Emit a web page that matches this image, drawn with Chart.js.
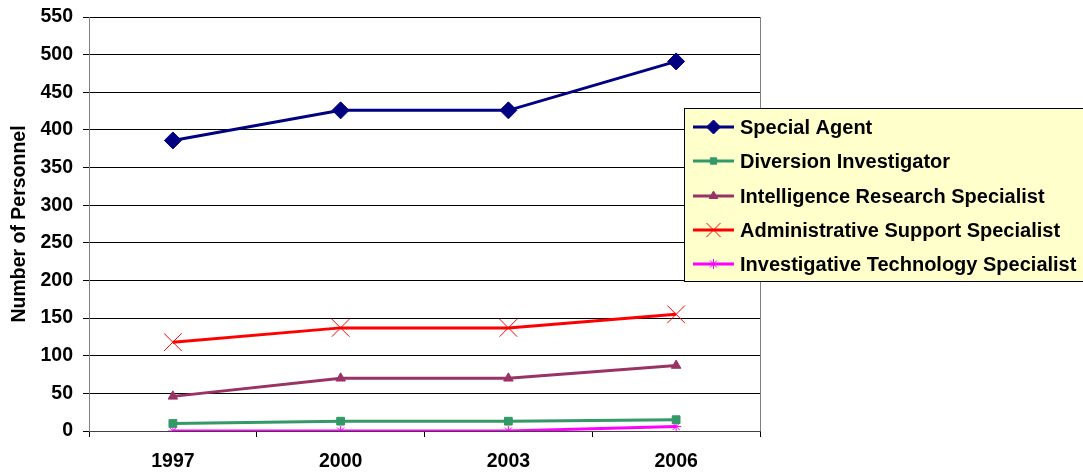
<!DOCTYPE html>
<html>
<head>
<meta charset="utf-8">
<script src="https://cdn.jsdelivr.net/npm/chart.js@4/dist/chart.umd.min.js"></script>
<style>
  html, body { margin: 0; padding: 0; background: #fff; }
  #wrap { position: relative; width: 1083px; height: 473px; }
</style>
</head>
<body>
<div id="wrap"><canvas id="c" width="1083" height="473"></canvas></div>
<script>
// Staffing by occupation, fiscal years 1997-2006
const years = ['1997', '2000', '2003', '2006'];
const specialAgent = [386, 426, 426, 491];
const diversionInvestigator = [10, 13, 13, 15];
const intelligenceResearch = [46, 70, 70, 87];
const adminSupport = [118, 137, 137, 155];
const investigativeTech = [0, 0, 0, 6];
const yTicks = [0, 50, 100, 150, 200, 250, 300, 350, 400, 450, 500, 550];

const FONT = '"Liberation Sans", Arial, sans-serif';

const series = [
  { label: 'Special Agent', data: specialAgent, color: '#000080', style: 'rectRot', r: 8.5, lr: 7 },
  { label: 'Diversion Investigator', data: diversionInvestigator, color: '#339966', style: 'rect', r: 5.5, lr: 4.5 },
  { label: 'Intelligence Research Specialist', data: intelligenceResearch, color: '#993366', style: 'triangle', r: 5.5, lr: 5 },
  { label: 'Administrative Support Specialist', data: adminSupport, color: '#FF0000', style: 'crossRot', r: 12.5, lr: 10 },
  { label: 'Investigative Technology Specialist', data: investigativeTech, color: '#FF00FF', style: 'star', r: 5, lr: 5 }
];

const datasets = series.map(s => ({
  label: s.label,
  data: s.data,
  borderColor: s.color,
  backgroundColor: s.color,
  borderWidth: 3,
  pointStyle: s.style,
  pointRadius: s.r,
  pointBorderWidth: 1,
  pointBackgroundColor: s.color,
  pointBorderColor: s.color,
  tension: 0
}));

// Boxed legend on a pale yellow panel, overlapping the right of the plot
const boxLegend = {
  id: 'boxLegend',
  afterDraw(chart) {
    const ctx = chart.ctx;
    const x0 = 684, y0 = 108, w = 410, h = 173;
    ctx.save();
    ctx.fillStyle = '#FFFFCC';
    ctx.fillRect(x0, y0, w, h);
    ctx.strokeStyle = '#000';
    ctx.lineWidth = 1;
    ctx.strokeRect(x0 + 0.5, y0 + 0.5, w, h);
    const rows = [127, 161, 196, 230, 264];
    series.forEach((s, i) => {
      const y = rows[i];
      ctx.strokeStyle = s.color;
      ctx.fillStyle = s.color;
      ctx.lineWidth = 3;
      ctx.beginPath();
      ctx.moveTo(693, y);
      ctx.lineTo(734, y);
      ctx.stroke();
      ctx.lineWidth = 1;
      Chart.helpers.drawPoint(ctx, { pointStyle: s.style, radius: s.lr, borderWidth: 1 }, 713.5, y);
      ctx.fillStyle = '#000';
      ctx.font = 'bold 20px ' + FONT;
      ctx.textBaseline = 'middle';
      ctx.textAlign = 'left';
      ctx.fillText(s.label, 740, y + 1);
    });
    ctx.restore();
  }
};

// Grey right-hand edge of the plot area
const frame = {
  id: 'frame',
  beforeDatasetsDraw(chart) {
    const a = chart.chartArea;
    const ctx = chart.ctx;
    ctx.save();
    ctx.strokeStyle = '#808080';
    ctx.lineWidth = 1;
    ctx.beginPath();
    ctx.moveTo(Math.round(a.right) + 0.5, a.top);
    ctx.lineTo(Math.round(a.right) + 0.5, a.bottom);
    ctx.stroke();
    ctx.restore();
  }
};

new Chart(document.getElementById('c'), {
  type: 'line',
  data: { labels: years, datasets },
  plugins: [frame, boxLegend],
  options: {
    responsive: false,
    animation: false,
    layout: { padding: { top: 17, right: 323, bottom: 0, left: 0 } },
    plugins: {
      legend: { display: false },
      tooltip: { enabled: false }
    },
    scales: {
      x: {
        offset: true,
        afterFit(axis) { axis.height = 42; },
        grid: {
          offset: true,
          drawOnChartArea: false,
          drawTicks: true,
          tickLength: 6,
          color: '#000'
        },
        border: { color: '#404040', width: 1 },
        ticks: {
          color: '#000',
          font: { family: FONT, size: 19.5, weight: 'bold' },
          padding: 13
        }
      },
      y: {
        min: 0,
        max: 550,
        afterFit(axis) { axis.width = 89; axis.paddingTop = 5; },
        afterBuildTicks(axis) { axis.ticks = yTicks.map(v => ({ value: v })); },
        grid: {
          color: '#000',
          tickLength: 6,
          drawTicks: true
        },
        border: { color: '#808080', width: 1 },
        ticks: {
          color: '#000',
          font: { family: FONT, size: 19.5, weight: 'bold' },
          padding: 10
        },
        title: {
          display: true,
          text: 'Number of Personnel',
          color: '#000',
          font: { family: FONT, size: 19.5, weight: 'bold' },
          padding: { top: 8, bottom: 0 }
        }
      }
    }
  }
});
</script>
</body>
</html>
